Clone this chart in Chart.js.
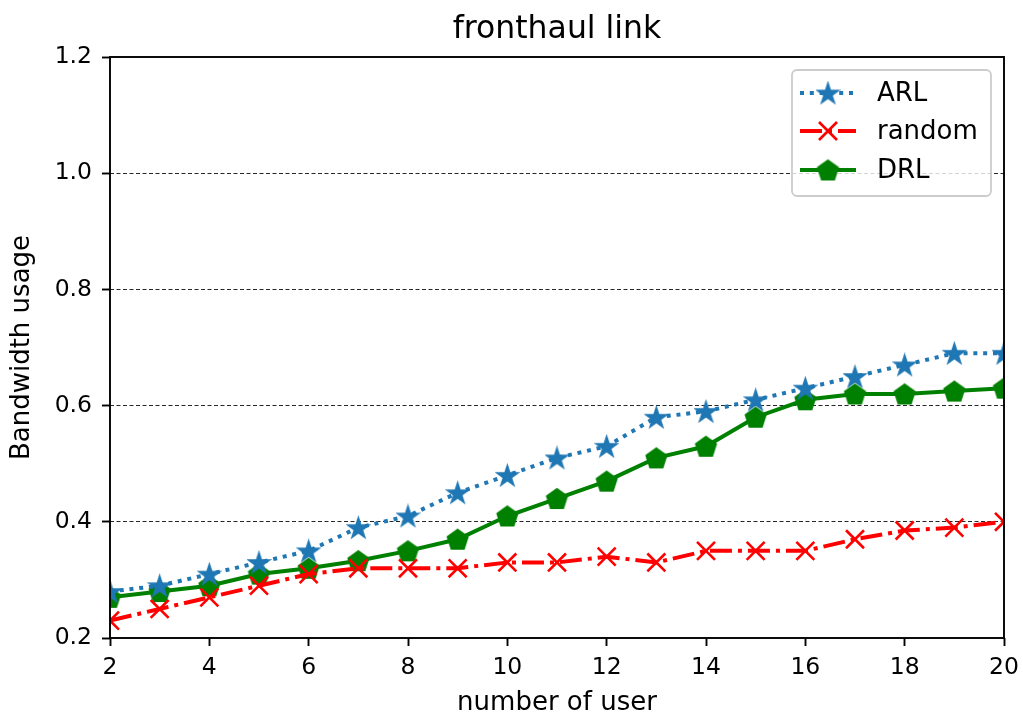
<!DOCTYPE html>
<html>
<head>
<meta charset="utf-8">
<script src="https://cdn.jsdelivr.net/npm/chart.js@4.4.1/dist/chart.umd.min.js"></script>
<style>
html,body{margin:0;padding:0;background:#fff;}
#wrap{width:1023px;height:719px;position:relative;}
</style>
</head>
<body>
<div id="wrap"><canvas id="c" width="1023" height="719"></canvas></div>
<script>
// ---- data ----
const users = [2,3,4,5,6,7,8,9,10,11,12,13,14,15,16,17,18,19,20];
const arl = [0.28,0.29,0.31,0.33,0.35,0.39,0.41,0.45,0.48,0.51,0.53,0.58,0.59,0.61,0.63,0.65,0.67,0.69,0.69];
const randomVals = [0.23,0.25,0.27,0.29,0.31,0.32,0.32,0.32,0.33,0.33,0.34,0.33,0.35,0.35,0.35,0.37,0.385,0.39,0.40];
const drl = [0.27,0.28,0.29,0.31,0.32,0.333,0.35,0.37,0.41,0.44,0.47,0.51,0.53,0.58,0.61,0.62,0.62,0.625,0.63];
const seriesNames = ['ARL','random','DRL'];
const yTicks = [0.2,0.4,0.6,0.8,1.0,1.2];
const xTicks = [2,4,6,8,10,12,14,16,18,20];
const titleText = 'fronthaul link';
const xTitle = 'number of user';
const yTitle = 'Bandwidth usage';

const BLUE = '#1f77b4', RED = '#ff0000', GREEN = '#008000';
const FONT = "'DejaVu Sans', sans-serif";

function starCanvas(color, R) {
  const s = Math.ceil(R*2+4), c = document.createElement('canvas');
  c.width = s; c.height = s;
  const g = c.getContext('2d'), r = R*0.381966;
  g.beginPath();
  for (let i=0;i<10;i++){
    const a = -Math.PI/2 + i*Math.PI/5, rr = i%2===0?R:r;
    const px = s/2 + rr*Math.cos(a), py = s/2 + 1 + rr*Math.sin(a);
    i===0?g.moveTo(px,py):g.lineTo(px,py);
  }
  g.closePath(); g.fillStyle=color; g.fill();
  g.lineWidth=1.8; g.strokeStyle=color; g.lineJoin='miter'; g.stroke();
  return c;
}
function pentCanvas(color, R) {
  const s = Math.ceil(R*2+4), c = document.createElement('canvas');
  c.width = s; c.height = s;
  const g = c.getContext('2d');
  g.beginPath();
  for (let i=0;i<5;i++){
    const a = -Math.PI/2 + i*2*Math.PI/5;
    const px = s/2 + R*Math.cos(a), py = s/2 + 1 + R*Math.sin(a);
    i===0?g.moveTo(px,py):g.lineTo(px,py);
  }
  g.closePath(); g.fillStyle=color; g.fill();
  g.lineWidth=2; g.strokeStyle=color; g.lineJoin='miter'; g.stroke();
  return c;
}
const starImg = starCanvas(BLUE, 10.5);
const pentImg = pentCanvas(GREEN, 10.5);

const dashARL = [4,5.8];
const dashRand = [22,6,4,6];

const framePlugin = {
  id:'frame',
  afterDraw(chart){
    const {ctx, chartArea:a} = chart;
    ctx.save();
    ctx.strokeStyle='#000'; ctx.lineWidth=1.9;
    ctx.strokeRect(a.left, a.top, a.right-a.left, a.bottom-a.top);
    // title centred over the plot area
    ctx.fillStyle='#000';
    ctx.font = "31.5px " + FONT;
    ctx.textAlign='center'; ctx.textBaseline='middle';
    ctx.fillText(titleText, (a.left+a.right)/2, 30);
    // legend
    const bx=792, by=70, bw=199, bh=126;
    ctx.beginPath();
    ctx.roundRect(bx,by,bw,bh,5);
    ctx.fillStyle='rgba(255,255,255,0.8)'; ctx.fill();
    ctx.lineWidth=1.8; ctx.strokeStyle='#cccccc'; ctx.stroke();
    const rows=[93,131,170];
    const x0=800, x1=856, xm=828;
    ctx.font = "26px " + FONT;
    ctx.textBaseline='middle'; ctx.textAlign='left';
    // ARL
    ctx.lineWidth=4; ctx.lineCap='butt';
    ctx.strokeStyle=BLUE; ctx.setLineDash(dashARL);
    ctx.beginPath(); ctx.moveTo(x0,rows[0]); ctx.lineTo(x1,rows[0]); ctx.stroke();
    ctx.drawImage(starImg, xm-starImg.width/2, rows[0]-starImg.height/2);
    // random
    ctx.strokeStyle=RED; ctx.setLineDash(dashRand);
    ctx.beginPath(); ctx.moveTo(x0,rows[1]); ctx.lineTo(x1,rows[1]); ctx.stroke();
    ctx.setLineDash([]); ctx.lineWidth=2.6;
    ctx.beginPath(); ctx.moveTo(xm-9,rows[1]-9); ctx.lineTo(xm+9,rows[1]+9);
    ctx.moveTo(xm-9,rows[1]+9); ctx.lineTo(xm+9,rows[1]-9); ctx.stroke();
    // DRL
    ctx.lineWidth=4; ctx.strokeStyle=GREEN;
    ctx.beginPath(); ctx.moveTo(x0,rows[2]); ctx.lineTo(x1,rows[2]); ctx.stroke();
    ctx.drawImage(pentImg, xm-pentImg.width/2, rows[2]-pentImg.height/2);
    ctx.fillStyle='#000';
    seriesNames.forEach((n,i)=>ctx.fillText(n, 877, rows[i]+1));
    ctx.restore();
  }
};

const mk = (arr)=>users.map((u,i)=>({x:u,y:arr[i]}));

new Chart(document.getElementById('c'), {
  type:'line',
  data:{
    datasets:[
      {label:seriesNames[0], data:mk(arl), borderColor:BLUE, backgroundColor:BLUE, borderWidth:4,
       borderDash:dashARL, pointStyle:starImg, pointRadius:10, clip:0, order:1},
      {label:seriesNames[1], data:mk(randomVals), borderColor:RED, backgroundColor:RED, borderWidth:4,
       borderDash:dashRand, pointStyle:'crossRot', pointRadius:12.7, pointBorderWidth:2.6, clip:0, order:2},
      {label:seriesNames[2], data:mk(drl), borderColor:GREEN, backgroundColor:GREEN, borderWidth:4,
       pointStyle:pentImg, pointRadius:10, clip:0, order:3}
    ]
  },
  options:{
    responsive:false, animation:false, devicePixelRatio:1,
    layout:{padding:{left:0,right:19,top:57,bottom:0}},
    elements:{line:{tension:0, borderCapStyle:'butt'}},
    plugins:{
      legend:{display:false}, tooltip:{enabled:false},
      title:{display:false}
    },
    scales:{
      x:{type:'linear', min:2, max:20,
        afterFit(s){s.height=81; s.paddingLeft=0; s.paddingRight=0;},
        afterBuildTicks(s){s.ticks = xTicks.map(v=>({value:v}));},
        ticks:{color:'#000', font:{family:FONT,size:23.5}, padding:8, maxRotation:0,
          callback:v=>String(v)},
        grid:{color:'transparent', drawOnChartArea:false, tickColor:'#000', tickLength:8, tickWidth:1.9},
        border:{display:false},
        title:{display:true, text:xTitle, color:'#000', font:{family:FONT,size:26,lineHeight:1.2}, padding:{top:0,bottom:0}}
      },
      y:{type:'linear', min:0.2, max:1.2,
        afterFit(s){s.width=110; s.paddingTop=0; s.paddingBottom=0;},
        afterBuildTicks(s){s.ticks = yTicks.map(v=>({value:v}));},
        ticks:{color:'#000', font:{family:FONT,size:23.5}, padding:10, callback:v=>v.toFixed(1)},
        grid:{color:(c)=>{const v=c.tick&&c.tick.value; return (v>0.25&&v<1.15)?'rgba(0,0,0,0.85)':'transparent';},
          lineWidth:1, tickColor:'#000', tickLength:8, tickWidth:1.9, tickBorderDash:[]},
        border:{display:false, dash:[4,2.5]},
        title:{display:true, text:yTitle, color:'#000', font:{family:FONT,size:26,lineHeight:1.2}, padding:{top:7,bottom:0}}
      }
    }
  },
  plugins:[framePlugin]
});
</script>
</body>
</html>
